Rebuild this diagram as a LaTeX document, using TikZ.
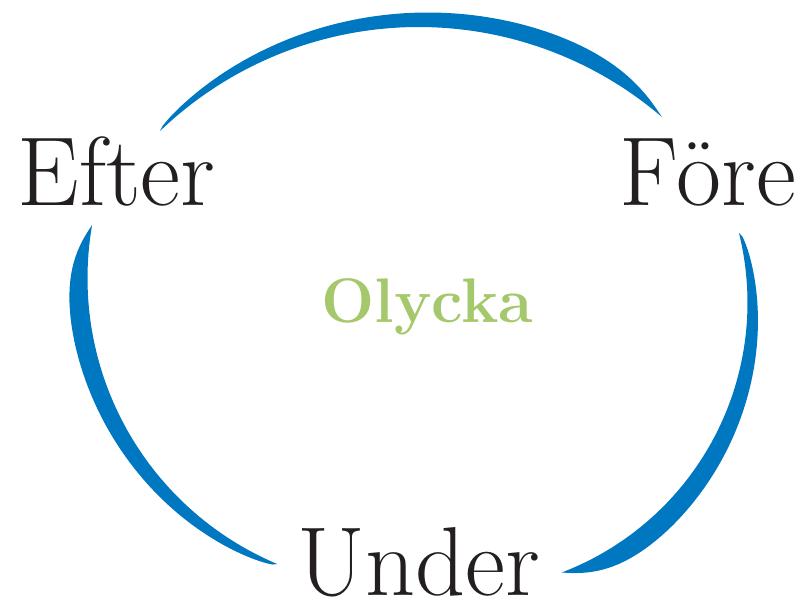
\documentclass[tikz,border=0pt]{standalone}
\usepackage{xcolor}
\usepackage{tikz}

\definecolor{arcblue}{RGB}{0,120,193}
\definecolor{olgreen}{RGB}{166,200,108}
\definecolor{inkblack}{RGB}{35,31,32}

\begin{document}
\begin{tikzpicture}[x=1pt, y=-1pt,
  declare function={taper(\t)=sqrt(\t)*tanh((1-\t)/0.12);},
  crescent/.style={fill=arcblue, draw=none},
  phase/.style={inner sep=0pt, anchor=base, text=inkblack, font=\fontsize{98}{98}\selectfont},
  centre/.style={inner sep=0pt, anchor=base, text=olgreen, font=\fontsize{63}{63}\selectfont\bfseries}]
\useasboundingbox (0,0) rectangle (801,601);
% #1,#2 centre, #3 radius, #4 start angle, #5 span, #6 max width
\newcommand{\arcband}[6]{%
  \fill[crescent] plot[domain=0:1, samples=100] ({#1+(#3+#6*taper(\x))*cos(#4+#5*\x)}, {#2+(#3+#6*taper(\x))*sin(#4+#5*\x)})
    -- plot[domain=1:0, samples=100] ({#1+#3*cos(#4+#5*\x)}, {#2+#3*sin(#4+#5*\x)}) -- cycle;}

% arcs
\arcband{418.7}{400.6}{373.6}{-133.8}{84.4}{20}
\arcband{458.7}{302.7}{288.8}{-14}{83.1}{24}
\arcband{397.5}{278.3}{310}{112.8}{77.1}{23}
%

% labels
\node[phase] (efter) at (116.5,206) {Efter};
\node[phase] (fore) at (708,206) {Före};
\node[phase] (under) at (418.5,595) {Under};
\node[centre] (olycka) at (427,323) {Olycka};
%
\end{tikzpicture}
\end{document}
